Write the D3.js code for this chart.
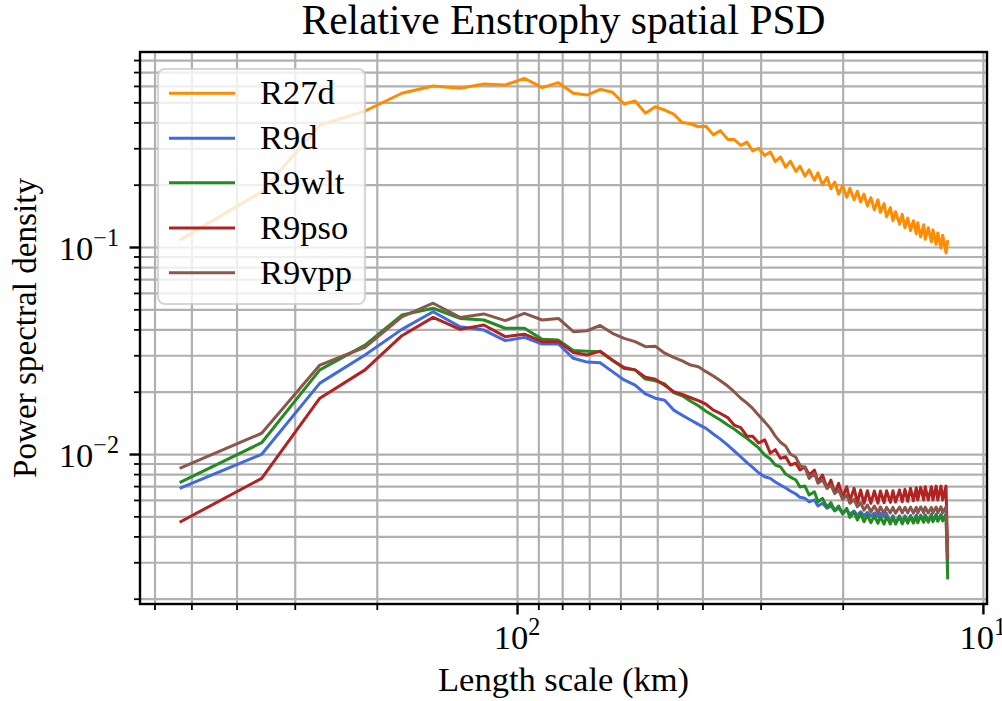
<!doctype html>
<html>
<head>
<meta charset="utf-8">
<script src="https://d3js.org/d3.v7.min.js"></script>
<style>
body { margin:0; background:#fff; }
text { font-family: "Liberation Serif", "DejaVu Serif", serif; fill:#000; }
</style>
</head>
<body>
<script>
// length scale (km) of each spectral bin
var lengthKm = [530, 353.3, 265, 212, 176.7, 151.4, 132.5, 117.8, 106, 96.4,
	88.3, 81.5, 75.7, 70.7, 66.3, 62.4, 58.9, 55.8, 53, 50.5,
	48.2, 46.1, 44.2, 42.4, 40.8, 39.3, 37.9, 36.6, 35.3, 34.2,
	33.1, 32.1, 31.2, 30.3, 29.4, 28.6, 27.9, 27.2, 26.5, 25.9,
	25.2, 24.7, 24.1, 23.6, 23.0, 22.6, 22.1, 21.6, 21.2, 20.8,
	20.4, 20.0, 19.6, 19.3, 18.9, 18.6, 18.3, 18.0, 17.7, 17.4,
	17.1, 16.8, 16.6, 16.3, 16.1, 15.8, 15.6, 15.4, 15.1, 14.9,
	14.7, 14.5, 14.3, 14.1, 13.9, 13.8, 13.6, 13.4, 13.3, 13.1,
	12.9, 12.8, 12.6, 12.5, 12.3, 12.2, 12.0, 11.9];

var seriesNames = ['R27d', 'R9d', 'R9wlt', 'R9pso', 'R9vpp'];

var r27d = [0.108, 0.185, 0.388, 0.454, 0.553, 0.600, 0.585, 0.613, 0.606, 0.653,
	0.589, 0.622, 0.553, 0.542, 0.578, 0.559, 0.491, 0.507, 0.443, 0.476,
	0.459, 0.439, 0.399, 0.394, 0.381, 0.383, 0.348, 0.365, 0.331, 0.331,
	0.310, 0.321, 0.291, 0.300, 0.277, 0.288, 0.259, 0.272, 0.243, 0.260,
	0.232, 0.246, 0.220, 0.236, 0.210, 0.228, 0.200, 0.217, 0.191, 0.206,
	0.180, 0.198, 0.174, 0.192, 0.169, 0.186, 0.165, 0.180, 0.158, 0.173,
	0.151, 0.169, 0.147, 0.162, 0.140, 0.155, 0.134, 0.148, 0.129, 0.144,
	0.124, 0.138, 0.120, 0.134, 0.116, 0.131, 0.112, 0.128, 0.109, 0.124,
	0.106, 0.121, 0.103, 0.117, 0.099, 0.114, 0.0935, 0.108];

var r9d = [0.00683, 0.00997, 0.0220, 0.0301, 0.0400, 0.0487, 0.0412, 0.0397, 0.0353, 0.0366,
	0.0340, 0.0340, 0.0290, 0.0278, 0.0276, 0.0250, 0.0228, 0.0215, 0.0195, 0.0186,
	0.0182, 0.0163, 0.0154, 0.0146, 0.0139, 0.0133, 0.0125, 0.0118, 0.01105, 0.01037,
	0.00970, 0.00908, 0.00862, 0.00812, 0.00777, 0.00763, 0.00732, 0.00708, 0.00685, 0.00663,
	0.00641, 0.00618, 0.00611, 0.00588, 0.00600, 0.00561, 0.00578, 0.00547, 0.00561, 0.00532,
	0.00547, 0.00520, 0.00536, 0.00513, 0.00530, 0.00507, 0.00526, 0.00503, 0.00523, 0.00502,
	0.00520, 0.00500, 0.00519, 0.00498, 0.00517, 0.00464, 0.00503, 0.00464, 0.00503, 0.00465,
	0.00503, 0.00468, 0.00505, 0.00469, 0.00507, 0.00471, 0.00507, 0.00473, 0.00508, 0.00474,
	0.00511, 0.00476, 0.00512, 0.00478, 0.00512, 0.00480, 0.00512, 0.00275];

var r9wlt = [0.00727, 0.01134, 0.0255, 0.0336, 0.0469, 0.0506, 0.0452, 0.0444, 0.0405, 0.0405,
	0.0358, 0.0355, 0.0316, 0.0314, 0.0312, 0.0284, 0.0259, 0.0255, 0.0230, 0.0226,
	0.0218, 0.0198, 0.0191, 0.0180, 0.0171, 0.0161, 0.0153, 0.0146, 0.0138, 0.0132,
	0.0125, 0.0119, 0.0113, 0.0107, 0.00989, 0.00946, 0.00885, 0.00866, 0.00800, 0.00774,
	0.00749, 0.00693, 0.00700, 0.00634, 0.00657, 0.00588, 0.00611, 0.00553, 0.00582, 0.00532,
	0.00561, 0.00513, 0.00547, 0.00494, 0.00526, 0.00480, 0.00517, 0.00471, 0.00507, 0.00466,
	0.00502, 0.00463, 0.00498, 0.00459, 0.00498, 0.00459, 0.00498, 0.00459, 0.00498, 0.00460,
	0.00498, 0.00463, 0.00500, 0.00464, 0.00502, 0.00466, 0.00502, 0.00468, 0.00503, 0.00469,
	0.00506, 0.00471, 0.00507, 0.00473, 0.00507, 0.00475, 0.00507, 0.00248];

var r9pso = [0.00468, 0.00763, 0.0186, 0.0255, 0.0373, 0.0457, 0.0400, 0.0420, 0.0369, 0.0379,
	0.0349, 0.0349, 0.0309, 0.0301, 0.0314, 0.0284, 0.0262, 0.0255, 0.0235, 0.0230,
	0.0215, 0.0200, 0.0194, 0.0187, 0.0181, 0.0174, 0.0163, 0.0157, 0.0150, 0.0138,
	0.0134, 0.0122, 0.0122, 0.0113, 0.0117, 0.0101, 0.0105, 0.00953, 0.00970, 0.00885,
	0.00902, 0.00837, 0.00868, 0.00792, 0.00837, 0.00735, 0.00792, 0.00683, 0.00749, 0.00646,
	0.00722, 0.00618, 0.00695, 0.00595, 0.00683, 0.00582, 0.00670, 0.00578, 0.00665, 0.00578,
	0.00663, 0.00578, 0.00663, 0.00582, 0.00665, 0.00584, 0.00665, 0.00586, 0.00670, 0.00588,
	0.00675, 0.00591, 0.00683, 0.00595, 0.00687, 0.00600, 0.00690, 0.00600, 0.00695, 0.00600,
	0.00695, 0.00600, 0.00700, 0.00600, 0.00700, 0.00600, 0.00700, 0.00318];

var r9vpp = [0.00853, 0.0126, 0.0269, 0.0328, 0.0460, 0.0535, 0.0457, 0.0475, 0.0441, 0.0478,
	0.0444, 0.0452, 0.0390, 0.0394, 0.0418, 0.0383, 0.0362, 0.0349, 0.0330, 0.0332,
	0.0307, 0.0293, 0.0282, 0.0269, 0.0264, 0.0250, 0.0238, 0.0226, 0.0213, 0.0200,
	0.0186, 0.0176, 0.0166, 0.0154, 0.0143, 0.0133, 0.0122, 0.0114, 0.0109, 0.0100,
	0.00964, 0.00880, 0.00860, 0.00763, 0.00807, 0.00722, 0.00749, 0.00683, 0.00708, 0.00646,
	0.00670, 0.00604, 0.00634, 0.00578, 0.00604, 0.00556, 0.00582, 0.00536, 0.00567, 0.00526,
	0.00561, 0.00520, 0.00556, 0.00517, 0.00553, 0.00519, 0.00553, 0.00518, 0.00555, 0.00519,
	0.00553, 0.00520, 0.00554, 0.00518, 0.00553, 0.00519, 0.00555, 0.00520, 0.00554, 0.00519,
	0.00553, 0.00520, 0.00555, 0.00521, 0.00556, 0.00520, 0.00556, 0.00308];

// ticks and their labels
var xMajorTicks = [100, 10];
var xTickLabels = [['10', '2'], ['10', '1']];
var xMinorTicks = [600, 500, 400, 300, 200, 90, 80, 70, 60, 50, 40, 30, 20];
var yMajorTicks = [0.1, 0.01];
var yTickLabels = [['10', '\u22121'], ['10', '\u22122']];
var yMinorTicks = [0.002, 0.003, 0.004, 0.005, 0.006, 0.007, 0.008, 0.009,
	0.02, 0.03, 0.04, 0.05, 0.06, 0.07, 0.08, 0.09,
	0.2, 0.3, 0.4, 0.5, 0.6, 0.7, 0.8];

/////////////// LAYOUT ///////////////
var W = 1002, H = 701;
var pLeft = 140, pRight = 987, pTop = 52, pBottom = 604;
var colors = ['#ff8c00', '#4169e1', '#228b22', '#b22222', '#8c564b'];
var gridColor = '#b0b0b0';

var svg = d3.select('body').append('svg').attr('width', W).attr('height', H);

// x axis is reversed: long scales on the left
var x = d3.scaleLog().domain([644.6, 9.8]).range([pLeft, pRight]);
var y = d3.scaleLog().domain([0.001886, 0.875]).range([pBottom, pTop]);

//Grid lines (minor and major)
var gridG = svg.append('g');
gridG.append('g').attr('transform', 'translate(0,' + pBottom + ')')
	.call(d3.axisBottom(x).tickValues(xMinorTicks.concat(xMajorTicks)).tickSize(-(pBottom - pTop)).tickFormat(''))
	.call(function(g) { g.select('.domain').remove(); })
	.selectAll('line').attr('stroke', gridColor).attr('stroke-width', 2.2);
gridG.append('g').attr('transform', 'translate(' + pLeft + ',0)')
	.call(d3.axisLeft(y).tickValues(yMinorTicks.concat(yMajorTicks)).tickSize(-(pRight - pLeft)).tickFormat(''))
	.call(function(g) { g.select('.domain').remove(); })
	.selectAll('line').attr('stroke', gridColor).attr('stroke-width', 2.2);

//Drawing lines
var allSeries = [r27d, r9d, r9wlt, r9pso, r9vpp];
var line = d3.line()
	.x(function(d, i) { return x(lengthKm[i]); })
	.y(function(d) { return y(d); });
allSeries.forEach(function(s, j) {
	svg.append('path').attr('d', line(s))
		.attr('fill', 'none').attr('stroke', colors[j])
		.attr('stroke-width', 3).attr('stroke-linejoin', 'round');
});

// Legend (semi transparent box over the lines)
var legendG = svg.append('g');
legendG.append('rect').attr('x', 158).attr('y', 69).attr('width', 207).attr('height', 235)
	.attr('rx', 7).attr('fill', '#fff').attr('fill-opacity', 0.8)
	.attr('stroke', '#cccccc').attr('stroke-opacity', 0.8).attr('stroke-width', 2.2);

// Frame and ticks
svg.append('rect').attr('x', pLeft).attr('y', pTop).attr('width', pRight - pLeft).attr('height', pBottom - pTop)
	.attr('fill', 'none').attr('stroke', '#000').attr('stroke-width', 2.4);

function tickAxis(axis, size, width, transform) {
	svg.append('g').attr('transform', transform)
		.call(axis.tickSize(size).tickFormat(''))
		.call(function(g) { g.select('.domain').remove(); })
		.selectAll('line').attr('stroke', '#000').attr('stroke-width', width);
}
tickAxis(d3.axisBottom(x).tickValues(xMinorTicks), 6, 1.8, 'translate(0,' + pBottom + ')');
tickAxis(d3.axisBottom(x).tickValues(xMajorTicks), 10.5, 2.4, 'translate(0,' + pBottom + ')');
tickAxis(d3.axisLeft(y).tickValues(yMinorTicks), 6, 1.8, 'translate(' + pLeft + ',0)');
tickAxis(d3.axisLeft(y).tickValues(yMajorTicks), 10.5, 2.4, 'translate(' + pLeft + ',0)');

// Texts, sized to the widths measured on the reference
function fitWidth(t, target) {
	var fs0 = parseFloat(t.attr('font-size'));
	var w = t.node().getComputedTextLength();
	var nfs = fs0 * target / w;
	t.attr('font-size', nfs);
	return nfs;
}
var cx = (pLeft + pRight) / 2;
var title = svg.append('text').attr('x', cx).attr('y', 34).attr('text-anchor', 'middle')
	.attr('font-size', 36).text('Relative Enstrophy spatial PSD');
fitWidth(title, 524);
var xLabel = svg.append('text').attr('x', cx).attr('y', 691).attr('text-anchor', 'middle')
	.attr('font-size', 30).text('Length scale (km)');
var fs = fitWidth(xLabel, 251);
var yLabel = svg.append('text').attr('transform', 'translate(36,' + (pTop + pBottom) / 2 + ') rotate(-90)')
	.attr('text-anchor', 'middle').attr('font-size', 30).text('Power spectral density');
fitWidth(yLabel, 300);

function powLabel(parts, xp, yp, anchor) {
	var t = svg.append('text').attr('x', xp).attr('y', yp).attr('text-anchor', anchor).attr('font-size', fs);
	t.append('tspan').text(parts[0]);
	t.append('tspan').attr('font-size', fs * 0.7).attr('dy', -fs * 0.42).text(parts[1]);
	return t;
}
xMajorTicks.forEach(function(v, i) { powLabel(xTickLabels[i], x(v), 649, 'middle'); });
yMajorTicks.forEach(function(v, i) { powLabel(yTickLabels[i], 119, y(v) + 13, 'end'); });

var rowY = [93.3, 138.3, 182.7, 228, 272.7];
seriesNames.forEach(function(n, i) {
	legendG.append('line').attr('x1', 169).attr('x2', 235).attr('y1', rowY[i]).attr('y2', rowY[i])
		.attr('stroke', colors[i]).attr('stroke-width', 3);
	legendG.append('text').attr('x', 260).attr('y', rowY[i] + 11).attr('font-size', fs).text(n);
});
</script>
</body>
</html>
